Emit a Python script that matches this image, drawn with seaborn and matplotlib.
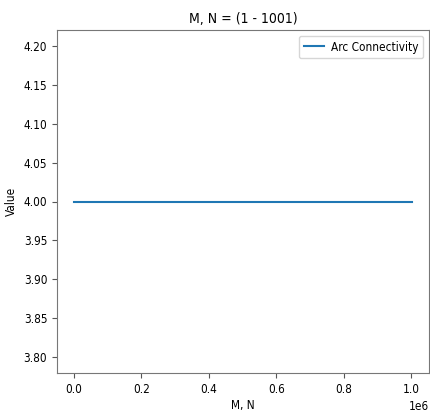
import matplotlib
matplotlib.use("Agg")
import matplotlib.pyplot as plt
import seaborn as sns
import pandas as pd

# Data
mn_values = [1, 250000, 500000, 750000, 1002001]
arc_connectivity = [4, 4, 4, 4, 4]
series_label = "Arc Connectivity"
title = "M, N = (1 - 1001)"

df = pd.DataFrame({"M, N": mn_values, "Value": arc_connectivity})

plt.rcParams['font.family'] = ['DejaVu Sans']
plt.rcParams['font.stretch'] = 'condensed'
fig = plt.figure(figsize=(4.31, 4.13), dpi=100)
ax = fig.add_axes([57 / 431, 1 - 373 / 413, (429 - 57) / 431, (373 - 30) / 413])

sns.lineplot(data=df, x="M, N", y="Value", ax=ax, label=series_label, color="#1f77b4", linewidth=1.5)

ax.set_title(title, fontsize=10, pad=5)
ax.set_xlabel("M, N", fontsize=8.5, labelpad=2)
ax.set_ylabel("Value", fontsize=8.5, labelpad=4)
ax.tick_params(labelsize=8.5, length=3.5, color="#555555")
ax.xaxis.get_offset_text().set_fontsize(8.5)
for s in ax.spines.values():
    s.set_color("#777777")
ax.legend(loc="upper right", fontsize=8.5, handlelength=1.7, handletextpad=0.6)

fig.savefig("out.png", dpi=100)
